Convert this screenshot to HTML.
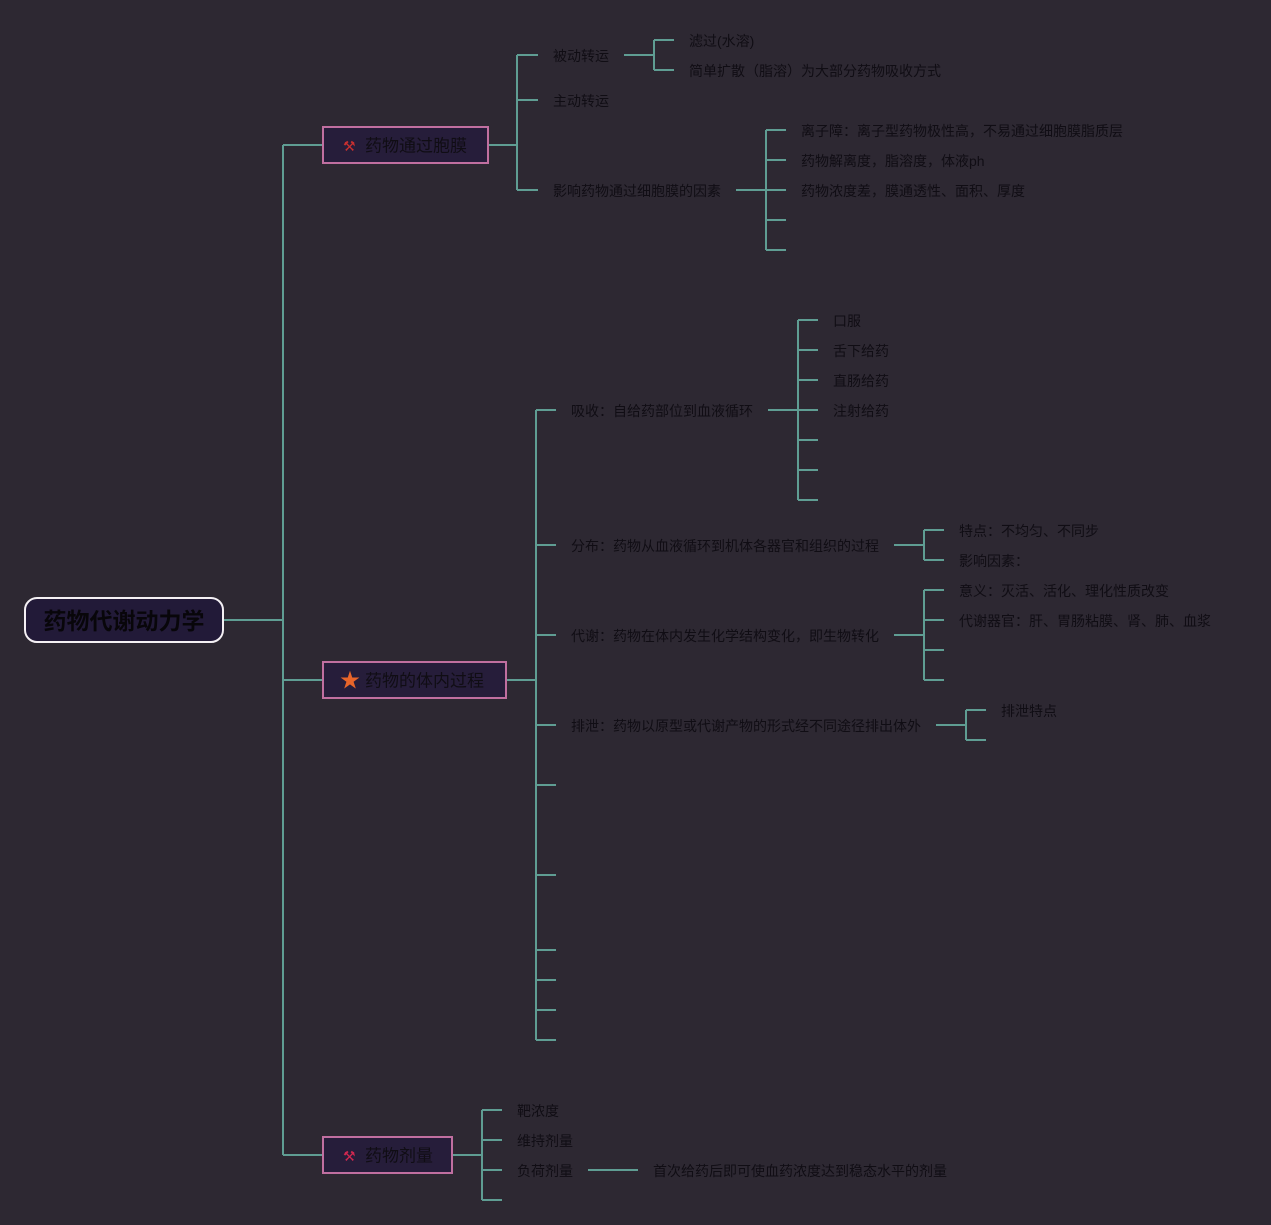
<!DOCTYPE html>
<html><head><meta charset="utf-8"><style>
html,body{margin:0;padding:0;background:#2d2832;}
svg{display:block}
text{font-family:"Liberation Sans","Noto Sans CJK SC",sans-serif;fill:#100d14;font-size:14px;dominant-baseline:central}
</style></head><body>
<svg width="1271" height="1225" viewBox="0 0 1271 1225" xmlns="http://www.w3.org/2000/svg">
<rect width="1271" height="1225" fill="#2d2832"/>
<g stroke="#5f9d93" stroke-width="2" fill="none">
<path d="M223 620H283M283 145V1155M283 145H323M283 680H323M283 1155H323"/>
<path d="M488 145H517M517 55V190M517 55H538M517 100H538M517 190H538"/>
<path d="M624 55H654M654 40V70M654 40H674M654 70H674"/>
<path d="M736 190H766M766 130V250M766 130H786M766 160H786M766 190H786M766 220H786M766 250H786"/>
<path d="M506 680H536M536 410V1040M536 410H556M536 545H556M536 635H556M536 725H556M536 785H556M536 875H556M536 950H556M536 980H556M536 1010H556M536 1040H556"/>
<path d="M768 410H798M798 320V500M798 320H818M798 350H818M798 380H818M798 410H818M798 440H818M798 470H818M798 500H818"/>
<path d="M894 545H924M924 530V560M924 530H944M924 560H944"/>
<path d="M894 635H924M924 590V680M924 590H944M924 620H944M924 650H944M924 680H944"/>
<path d="M936 725H966M966 710V740M966 710H986M966 740H986"/>
<path d="M452 1155H482M482 1110V1200M482 1110H502M482 1140H502M482 1170H502M482 1200H502M588 1170H638"/>
</g>
<rect x="25" y="598" width="198" height="44" rx="12" fill="#221a38" stroke="#f4f0f4" stroke-width="2"/>
<text x="124" y="621" text-anchor="middle" style="font-size:23px;font-weight:bold;fill:#08060a">药物代谢动力学</text>
<rect x="323" y="127" width="165" height="36" fill="#261d3a" stroke="#c06fa0" stroke-width="2"/>
<text x="343" y="146" style="fill:#c83030;font-size:14px">⚒</text>
<text x="365" y="146" style="font-size:17px">药物通过胞膜</text>
<rect x="323" y="662" width="183" height="36" fill="#261d3a" stroke="#c06fa0" stroke-width="2"/>
<text x="340" y="681" style="fill:#e8652a;font-size:20px">★</text>
<text x="365" y="681" style="font-size:17px">药物的体内过程</text>
<rect x="323" y="1137" width="129" height="36" fill="#261d3a" stroke="#c06fa0" stroke-width="2"/>
<text x="343" y="1156" style="fill:#d02850;font-size:14px">⚒</text>
<text x="365" y="1156" style="font-size:17px">药物剂量</text>
<text x="553" y="56">被动转运</text>
<text x="553" y="101">主动转运</text>
<text x="553" y="191">影响药物通过细胞膜的因素</text>
<text x="689" y="41">滤过(水溶)</text>
<text x="689" y="71">简单扩散（脂溶）为大部分药物吸收方式</text>
<text x="801" y="131">离子障：离子型药物极性高，不易通过细胞膜脂质层</text>
<text x="801" y="161">药物解离度，脂溶度，体液ph</text>
<text x="801" y="191">药物浓度差，膜通透性、面积、厚度</text>
<text x="571" y="411">吸收：自给药部位到血液循环</text>
<text x="833" y="321">口服</text>
<text x="833" y="351">舌下给药</text>
<text x="833" y="381">直肠给药</text>
<text x="833" y="411">注射给药</text>
<text x="571" y="546">分布：药物从血液循环到机体各器官和组织的过程</text>
<text x="959" y="531">特点：不均匀、不同步</text>
<text x="959" y="561">影响因素：</text>
<text x="571" y="636">代谢：药物在体内发生化学结构变化，即生物转化</text>
<text x="959" y="591">意义：灭活、活化、理化性质改变</text>
<text x="959" y="621">代谢器官：肝、胃肠粘膜、肾、肺、血浆</text>
<text x="571" y="726">排泄：药物以原型或代谢产物的形式经不同途径排出体外</text>
<text x="1001" y="711">排泄特点</text>
<text x="517" y="1111">靶浓度</text>
<text x="517" y="1141">维持剂量</text>
<text x="517" y="1171">负荷剂量</text>
<text x="653" y="1171">首次给药后即可使血药浓度达到稳态水平的剂量</text>
</svg>
</body></html>
